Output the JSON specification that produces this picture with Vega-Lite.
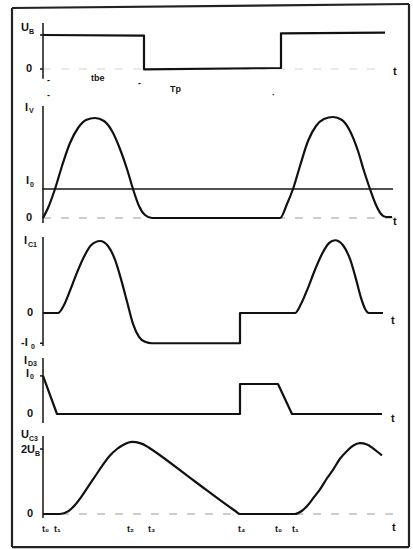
{
  "$schema": "https://vega.github.io/schema/vega-lite/v6.json",
  "padding": {"left": 10, "right": 3, "top": 2, "bottom": 2},
  "background": "white",
  "spacing": 0,
  "bounds": "flush",
  "resolve": {"scale": {"x": "independent", "y": "independent"}},
  "config": {
    "view": {"stroke": null},
    "text": {"align": "left", "baseline": "middle", "font": "Liberation Sans", "fontWeight": "bold", "color": "#141414"}
  },
  "datasets": {
    "signals": [
      {"panel": "ub", "x": 0, "y": 1.0}, {"panel": "ub", "x": 101, "y": 0.98}, {"panel": "ub", "x": 101, "y": -0.01},
      {"panel": "ub", "x": 238, "y": 0.03}, {"panel": "ub", "x": 238, "y": 1.05}, {"panel": "ub", "x": 342, "y": 1.07},

      {"panel": "iv", "x": 0, "y": 0}, {"panel": "iv", "x": 5, "y": 0.1}, {"panel": "iv", "x": 12, "y": 0.29},
      {"panel": "iv", "x": 19, "y": 0.52}, {"panel": "iv", "x": 27, "y": 0.75}, {"panel": "iv", "x": 35, "y": 0.9},
      {"panel": "iv", "x": 43, "y": 0.98}, {"panel": "iv", "x": 52, "y": 1.0}, {"panel": "iv", "x": 61, "y": 0.97},
      {"panel": "iv", "x": 69, "y": 0.87}, {"panel": "iv", "x": 77, "y": 0.69}, {"panel": "iv", "x": 84, "y": 0.49},
      {"panel": "iv", "x": 90, "y": 0.29}, {"panel": "iv", "x": 96, "y": 0.12}, {"panel": "iv", "x": 102, "y": 0.03},
      {"panel": "iv", "x": 109, "y": 0}, {"panel": "iv", "x": 237, "y": 0}, {"panel": "iv", "x": 244, "y": 0.14},
      {"panel": "iv", "x": 250, "y": 0.29}, {"panel": "iv", "x": 257, "y": 0.52}, {"panel": "iv", "x": 265, "y": 0.77},
      {"panel": "iv", "x": 273, "y": 0.92}, {"panel": "iv", "x": 281, "y": 0.99}, {"panel": "iv", "x": 290, "y": 1.01},
      {"panel": "iv", "x": 299, "y": 0.98}, {"panel": "iv", "x": 307, "y": 0.87}, {"panel": "iv", "x": 315, "y": 0.67},
      {"panel": "iv", "x": 321, "y": 0.47}, {"panel": "iv", "x": 327, "y": 0.29}, {"panel": "iv", "x": 333, "y": 0.13},
      {"panel": "iv", "x": 338, "y": 0.04}, {"panel": "iv", "x": 343, "y": 0.01}, {"panel": "iv", "x": 349, "y": 0.01},

      {"panel": "ic", "x": 0, "y": 0}, {"panel": "ic", "x": 15, "y": 0}, {"panel": "ic", "x": 21, "y": 0.11},
      {"panel": "ic", "x": 27, "y": 0.31}, {"panel": "ic", "x": 34, "y": 0.56}, {"panel": "ic", "x": 41, "y": 0.78},
      {"panel": "ic", "x": 48, "y": 0.94}, {"panel": "ic", "x": 57, "y": 1.0}, {"panel": "ic", "x": 65, "y": 0.93},
      {"panel": "ic", "x": 72, "y": 0.74}, {"panel": "ic", "x": 78, "y": 0.47}, {"panel": "ic", "x": 84, "y": 0.16},
      {"panel": "ic", "x": 90, "y": -0.15}, {"panel": "ic", "x": 96, "y": -0.33}, {"panel": "ic", "x": 102, "y": -0.4},
      {"panel": "ic", "x": 109, "y": -0.42}, {"panel": "ic", "x": 197, "y": -0.42}, {"panel": "ic", "x": 197, "y": 0},
      {"panel": "ic", "x": 252, "y": 0}, {"panel": "ic", "x": 258, "y": 0.125}, {"panel": "ic", "x": 265, "y": 0.35},
      {"panel": "ic", "x": 272, "y": 0.6}, {"panel": "ic", "x": 279, "y": 0.82}, {"panel": "ic", "x": 286, "y": 0.97},
      {"panel": "ic", "x": 292, "y": 1.01}, {"panel": "ic", "x": 300, "y": 0.94}, {"panel": "ic", "x": 307, "y": 0.75},
      {"panel": "ic", "x": 313, "y": 0.47}, {"panel": "ic", "x": 318, "y": 0.21}, {"panel": "ic", "x": 322, "y": 0.06},
      {"panel": "ic", "x": 326, "y": 0}, {"panel": "ic", "x": 340, "y": 0},

      {"panel": "id", "x": 0, "y": 1.27}, {"panel": "id", "x": 14, "y": 0}, {"panel": "id", "x": 197, "y": 0},
      {"panel": "id", "x": 197, "y": 1.0}, {"panel": "id", "x": 235, "y": 1.0}, {"panel": "id", "x": 249, "y": 0},
      {"panel": "id", "x": 339, "y": 0},

      {"panel": "uc", "x": 0, "y": 0}, {"panel": "uc", "x": 17, "y": 0}, {"panel": "uc", "x": 25, "y": 0.04},
      {"panel": "uc", "x": 32, "y": 0.14}, {"panel": "uc", "x": 39, "y": 0.28}, {"panel": "uc", "x": 46, "y": 0.44},
      {"panel": "uc", "x": 53, "y": 0.6}, {"panel": "uc", "x": 60, "y": 0.76}, {"panel": "uc", "x": 67, "y": 0.9},
      {"panel": "uc", "x": 74, "y": 1.0}, {"panel": "uc", "x": 81, "y": 1.07}, {"panel": "uc", "x": 89, "y": 1.11},
      {"panel": "uc", "x": 97, "y": 1.09}, {"panel": "uc", "x": 104, "y": 1.04}, {"panel": "uc", "x": 108, "y": 1.0},
      {"panel": "uc", "x": 152, "y": 0.5}, {"panel": "uc", "x": 192, "y": 0.05}, {"panel": "uc", "x": 197, "y": 0},
      {"panel": "uc", "x": 252, "y": 0}, {"panel": "uc", "x": 259, "y": 0.05}, {"panel": "uc", "x": 265, "y": 0.14},
      {"panel": "uc", "x": 271, "y": 0.26}, {"panel": "uc", "x": 277, "y": 0.38}, {"panel": "uc", "x": 284, "y": 0.55},
      {"panel": "uc", "x": 290, "y": 0.68}, {"panel": "uc", "x": 297, "y": 0.85}, {"panel": "uc", "x": 304, "y": 0.97},
      {"panel": "uc", "x": 310, "y": 1.05}, {"panel": "uc", "x": 317, "y": 1.09}, {"panel": "uc", "x": 324, "y": 1.07},
      {"panel": "uc", "x": 330, "y": 1.01}, {"panel": "uc", "x": 335, "y": 0.95}, {"panel": "uc", "x": 339, "y": 0.9}
    ],
    "guides": [
      {"panel": "ub", "kind": "rule", "x": 0, "x2": 0, "y": 1.35, "y2": -0.29},
      {"panel": "ub", "kind": "rule", "x": -3, "x2": 0, "y": 1.0, "y2": 1.0},
      {"panel": "ub", "kind": "rule", "x": -3, "x2": 0, "y": 0, "y2": 0},
      {"panel": "ub", "kind": "dash", "x": 0, "x2": 340, "y": 0, "y2": 0},
      {"panel": "ub", "kind": "frame", "x": -31, "x2": -31, "y": 1.794, "y2": -0.941},
      {"panel": "ub", "kind": "frame", "x": 366, "x2": 366, "y": 1.912, "y2": -0.941},
      {"panel": "ub", "kind": "frame", "x": -31, "x2": 366, "y": 1.794, "y2": 1.912},

      {"panel": "iv", "kind": "rule", "x": 0, "x2": 0, "y": 1.12, "y2": -0.05},
      {"panel": "iv", "kind": "rule", "x": -1, "x2": 350, "y": 0.29, "y2": 0.29},
      {"panel": "iv", "kind": "dash", "x": 0, "x2": 354, "y": 0, "y2": 0},
      {"panel": "iv", "kind": "frame", "x": -31, "x2": -31, "y": 1.17, "y2": -0.08},
      {"panel": "iv", "kind": "frame", "x": 366, "x2": 366, "y": 1.17, "y2": -0.08},

      {"panel": "ic", "kind": "rule", "x": 0, "x2": 0, "y": 1.056, "y2": -0.458},
      {"panel": "ic", "kind": "rule", "x": -3, "x2": 0, "y": -0.42, "y2": -0.42},
      {"panel": "ic", "kind": "frame", "x": -31, "x2": -31, "y": 1.208, "y2": -0.458},
      {"panel": "ic", "kind": "frame", "x": 366, "x2": 366, "y": 1.208, "y2": -0.458},

      {"panel": "id", "kind": "rule", "x": 0, "x2": 0, "y": 1.87, "y2": -0.3},
      {"panel": "id", "kind": "rule", "x": -3, "x2": 0, "y": 1.27, "y2": 1.27},
      {"panel": "id", "kind": "frame", "x": -31, "x2": -31, "y": 2.267, "y2": -0.4},
      {"panel": "id", "kind": "frame", "x": 366, "x2": 366, "y": 2.267, "y2": -0.4},

      {"panel": "uc", "kind": "rule", "x": 0, "x2": 0, "y": 1.2, "y2": -0.06},
      {"panel": "uc", "kind": "rule", "x": -3, "x2": 0, "y": 1.0, "y2": 1.0},
      {"panel": "uc", "kind": "dash", "x": 0, "x2": 352, "y": 0, "y2": 0},
      {"panel": "uc", "kind": "frame", "x": -31, "x2": -31, "y": 1.354, "y2": -0.508},
      {"panel": "uc", "kind": "frame", "x": 366, "x2": 366, "y": 1.354, "y2": -0.508},
      {"panel": "uc", "kind": "frame", "x": -31, "x2": 366, "y": -0.508, "y2": -0.508}
    ],
    "labels": [
      {"panel": "ub", "text": "U", "role": "main", "x": -22, "y": 1.21},
      {"panel": "ub", "text": "B", "role": "sub", "x": -14, "y": 1.1},
      {"panel": "ub", "text": "0", "role": "main", "x": -17, "y": 0},
      {"panel": "ub", "text": "t", "role": "main", "x": 350, "y": -0.1},
      {"panel": "ub", "text": "tbe", "role": "small", "x": 48, "y": -0.26},
      {"panel": "ub", "text": "Tp", "role": "small", "x": 127, "y": -0.59},
      {"panel": "ub", "text": "-", "role": "small", "x": 4, "y": -0.32},
      {"panel": "ub", "text": "-", "role": "small", "x": 4, "y": -0.76},
      {"panel": "ub", "text": "-", "role": "small", "x": 95, "y": -0.41},
      {"panel": "ub", "text": "·", "role": "small", "x": 229, "y": -0.76},

      {"panel": "iv", "text": "I", "role": "main", "x": -18, "y": 1.1},
      {"panel": "iv", "text": "V", "role": "sub", "x": -14, "y": 1.07},
      {"panel": "iv", "text": "I", "role": "main", "x": -17, "y": 0.37},
      {"panel": "iv", "text": "0", "role": "sub", "x": -13, "y": 0.33},
      {"panel": "iv", "text": "0", "role": "main", "x": -17, "y": 0},
      {"panel": "iv", "text": "t", "role": "main", "x": 350, "y": -0.04},

      {"panel": "ic", "text": "I", "role": "main", "x": -19, "y": 1.0},
      {"panel": "ic", "text": "C1", "role": "sub", "x": -15, "y": 0.95},
      {"panel": "ic", "text": "0", "role": "main", "x": -16, "y": 0},
      {"panel": "ic", "text": "-I", "role": "main", "x": -22, "y": -0.42},
      {"panel": "ic", "text": "0", "role": "sub", "x": -12, "y": -0.47},
      {"panel": "ic", "text": "t", "role": "main", "x": 348, "y": -0.11},

      {"panel": "id", "text": "I", "role": "main", "x": -19, "y": 1.77},
      {"panel": "id", "text": "D3", "role": "sub", "x": -15, "y": 1.67},
      {"panel": "id", "text": "I", "role": "main", "x": -17, "y": 1.33},
      {"panel": "id", "text": "0", "role": "sub", "x": -13, "y": 1.23},
      {"panel": "id", "text": "0", "role": "main", "x": -16, "y": 0},
      {"panel": "id", "text": "t", "role": "main", "x": 348, "y": -0.15},

      {"panel": "uc", "text": "U", "role": "main", "x": -22, "y": 1.22},
      {"panel": "uc", "text": "C3", "role": "sub", "x": -14, "y": 1.16},
      {"panel": "uc", "text": "2U", "role": "main", "x": -22, "y": 0.99},
      {"panel": "uc", "text": "B", "role": "sub", "x": -8, "y": 0.93},
      {"panel": "uc", "text": "0", "role": "main", "x": -16, "y": 0},
      {"panel": "uc", "text": "t", "role": "main", "x": 349, "y": -0.22},
      {"panel": "uc", "text": "t₀", "role": "small", "x": -1, "y": -0.23},
      {"panel": "uc", "text": "t₁", "role": "small", "x": 11, "y": -0.23},
      {"panel": "uc", "text": "t₂", "role": "small", "x": 84, "y": -0.23},
      {"panel": "uc", "text": "t₃", "role": "small", "x": 105, "y": -0.23},
      {"panel": "uc", "text": "t₄", "role": "small", "x": 195, "y": -0.23},
      {"panel": "uc", "text": "t₀", "role": "small", "x": 232, "y": -0.23},
      {"panel": "uc", "text": "t₁", "role": "small", "x": 249, "y": -0.23}
    ]
  },
  "vconcat": [
    {
      "width": 400,
      "height": 98,
      "encoding": {
        "x": {"field": "x", "type": "quantitative", "scale": {"domain": [-33, 367], "nice": false, "zero": false}, "axis": null},
        "y": {"field": "y", "type": "quantitative", "scale": {"domain": [-0.941, 1.941], "nice": false, "zero": false}, "axis": null}
      },
      "layer": [
        {"data": {"name": "guides"}, "transform": [{"filter": "datum.panel == 'ub' && datum.kind == 'dash'"}],
         "mark": {"type": "rule", "color": "#d4d4d4", "strokeWidth": 1, "strokeDash": [8, 10]},
         "encoding": {"x2": {"field": "x2"}, "y2": {"field": "y2"}}},
        {"data": {"name": "guides"}, "transform": [{"filter": "datum.panel == 'ub' && datum.kind == 'rule'"}],
         "mark": {"type": "rule", "color": "#151515", "strokeWidth": 1.5},
         "encoding": {"x2": {"field": "x2"}, "y2": {"field": "y2"}}},
        {"data": {"name": "guides"}, "transform": [{"filter": "datum.panel == 'ub' && datum.kind == 'frame'"}],
         "mark": {"type": "rule", "color": "#222", "strokeWidth": 2.2},
         "encoding": {"x2": {"field": "x2"}, "y2": {"field": "y2"}}},
        {"data": {"name": "signals"}, "transform": [{"filter": "datum.panel == 'ub'"}],
         "mark": {"type": "line", "interpolate": "linear", "color": "#111", "strokeWidth": 2.2, "strokeJoin": "round"},
         "encoding": {"order": {"value": null}}},
        {"data": {"name": "labels"}, "transform": [{"filter": "datum.panel == 'ub' && datum.role == 'main'"}],
         "mark": {"type": "text", "fontSize": 11}, "encoding": {"text": {"field": "text"}}},
        {"data": {"name": "labels"}, "transform": [{"filter": "datum.panel == 'ub' && datum.role == 'sub'"}],
         "mark": {"type": "text", "fontSize": 7}, "encoding": {"text": {"field": "text"}}},
        {"data": {"name": "labels"}, "transform": [{"filter": "datum.panel == 'ub' && datum.role == 'small'"}],
         "mark": {"type": "text", "fontSize": 9}, "encoding": {"text": {"field": "text"}}}
      ]
    },
    {
      "width": 400,
      "height": 125,
      "encoding": {
        "x": {"field": "x", "type": "quantitative", "scale": {"domain": [-33, 367], "nice": false, "zero": false}, "axis": null},
        "y": {"field": "y", "type": "quantitative", "scale": {"domain": [-0.08, 1.17], "nice": false, "zero": false}, "axis": null}
      },
      "layer": [
        {"data": {"name": "guides"}, "transform": [{"filter": "datum.panel == 'iv' && datum.kind == 'dash'"}],
         "mark": {"type": "rule", "color": "#9a9a9a", "strokeWidth": 1, "strokeDash": [8, 10]},
         "encoding": {"x2": {"field": "x2"}, "y2": {"field": "y2"}}},
        {"data": {"name": "guides"}, "transform": [{"filter": "datum.panel == 'iv' && datum.kind == 'rule'"}],
         "mark": {"type": "rule", "color": "#151515", "strokeWidth": 1.5},
         "encoding": {"x2": {"field": "x2"}, "y2": {"field": "y2"}}},
        {"data": {"name": "guides"}, "transform": [{"filter": "datum.panel == 'iv' && datum.kind == 'frame'"}],
         "mark": {"type": "rule", "color": "#222", "strokeWidth": 2.2},
         "encoding": {"x2": {"field": "x2"}, "y2": {"field": "y2"}}},
        {"data": {"name": "signals"}, "transform": [{"filter": "datum.panel == 'iv'"}],
         "mark": {"type": "line", "interpolate": "monotone", "color": "#111", "strokeWidth": 2.2, "strokeJoin": "round"},
         "encoding": {"order": {"value": null}}},
        {"data": {"name": "labels"}, "transform": [{"filter": "datum.panel == 'iv' && datum.role == 'main'"}],
         "mark": {"type": "text", "fontSize": 11}, "encoding": {"text": {"field": "text"}}},
        {"data": {"name": "labels"}, "transform": [{"filter": "datum.panel == 'iv' && datum.role == 'sub'"}],
         "mark": {"type": "text", "fontSize": 7}, "encoding": {"text": {"field": "text"}}}
      ]
    },
    {
      "width": 400,
      "height": 120,
      "encoding": {
        "x": {"field": "x", "type": "quantitative", "scale": {"domain": [-33, 367], "nice": false, "zero": false}, "axis": null},
        "y": {"field": "y", "type": "quantitative", "scale": {"domain": [-0.458, 1.208], "nice": false, "zero": false}, "axis": null}
      },
      "layer": [
        {"data": {"name": "guides"}, "transform": [{"filter": "datum.panel == 'ic' && datum.kind == 'rule'"}],
         "mark": {"type": "rule", "color": "#151515", "strokeWidth": 1.5},
         "encoding": {"x2": {"field": "x2"}, "y2": {"field": "y2"}}},
        {"data": {"name": "guides"}, "transform": [{"filter": "datum.panel == 'ic' && datum.kind == 'frame'"}],
         "mark": {"type": "rule", "color": "#222", "strokeWidth": 2.2},
         "encoding": {"x2": {"field": "x2"}, "y2": {"field": "y2"}}},
        {"data": {"name": "signals"}, "transform": [{"filter": "datum.panel == 'ic'"}],
         "mark": {"type": "line", "interpolate": "monotone", "color": "#111", "strokeWidth": 2.2, "strokeJoin": "round"},
         "encoding": {"order": {"value": null}}},
        {"data": {"name": "labels"}, "transform": [{"filter": "datum.panel == 'ic' && datum.role == 'main'"}],
         "mark": {"type": "text", "fontSize": 11}, "encoding": {"text": {"field": "text"}}},
        {"data": {"name": "labels"}, "transform": [{"filter": "datum.panel == 'ic' && datum.role == 'sub'"}],
         "mark": {"type": "text", "fontSize": 7}, "encoding": {"text": {"field": "text"}}}
      ]
    },
    {
      "width": 400,
      "height": 80,
      "encoding": {
        "x": {"field": "x", "type": "quantitative", "scale": {"domain": [-33, 367], "nice": false, "zero": false}, "axis": null},
        "y": {"field": "y", "type": "quantitative", "scale": {"domain": [-0.4, 2.267], "nice": false, "zero": false}, "axis": null}
      },
      "layer": [
        {"data": {"name": "guides"}, "transform": [{"filter": "datum.panel == 'id' && datum.kind == 'rule'"}],
         "mark": {"type": "rule", "color": "#151515", "strokeWidth": 1.5},
         "encoding": {"x2": {"field": "x2"}, "y2": {"field": "y2"}}},
        {"data": {"name": "guides"}, "transform": [{"filter": "datum.panel == 'id' && datum.kind == 'frame'"}],
         "mark": {"type": "rule", "color": "#222", "strokeWidth": 2.2},
         "encoding": {"x2": {"field": "x2"}, "y2": {"field": "y2"}}},
        {"data": {"name": "signals"}, "transform": [{"filter": "datum.panel == 'id'"}],
         "mark": {"type": "line", "interpolate": "linear", "color": "#111", "strokeWidth": 2.2, "strokeJoin": "round"},
         "encoding": {"order": {"value": null}}},
        {"data": {"name": "labels"}, "transform": [{"filter": "datum.panel == 'id' && datum.role == 'main'"}],
         "mark": {"type": "text", "fontSize": 11}, "encoding": {"text": {"field": "text"}}},
        {"data": {"name": "labels"}, "transform": [{"filter": "datum.panel == 'id' && datum.role == 'sub'"}],
         "mark": {"type": "text", "fontSize": 7}, "encoding": {"text": {"field": "text"}}}
      ]
    },
    {
      "width": 400,
      "height": 122,
      "encoding": {
        "x": {"field": "x", "type": "quantitative", "scale": {"domain": [-33, 367], "nice": false, "zero": false}, "axis": null},
        "y": {"field": "y", "type": "quantitative", "scale": {"domain": [-0.523, 1.354], "nice": false, "zero": false}, "axis": null}
      },
      "layer": [
        {"data": {"name": "guides"}, "transform": [{"filter": "datum.panel == 'uc' && datum.kind == 'dash'"}],
         "mark": {"type": "rule", "color": "#9a9a9a", "strokeWidth": 1, "strokeDash": [8, 10]},
         "encoding": {"x2": {"field": "x2"}, "y2": {"field": "y2"}}},
        {"data": {"name": "guides"}, "transform": [{"filter": "datum.panel == 'uc' && datum.kind == 'rule'"}],
         "mark": {"type": "rule", "color": "#151515", "strokeWidth": 1.5},
         "encoding": {"x2": {"field": "x2"}, "y2": {"field": "y2"}}},
        {"data": {"name": "guides"}, "transform": [{"filter": "datum.panel == 'uc' && datum.kind == 'frame'"}],
         "mark": {"type": "rule", "color": "#222", "strokeWidth": 2.2},
         "encoding": {"x2": {"field": "x2"}, "y2": {"field": "y2"}}},
        {"data": {"name": "signals"}, "transform": [{"filter": "datum.panel == 'uc'"}],
         "mark": {"type": "line", "interpolate": "monotone", "color": "#111", "strokeWidth": 2.2, "strokeJoin": "round"},
         "encoding": {"order": {"value": null}}},
        {"data": {"name": "labels"}, "transform": [{"filter": "datum.panel == 'uc' && datum.role == 'main'"}],
         "mark": {"type": "text", "fontSize": 11}, "encoding": {"text": {"field": "text"}}},
        {"data": {"name": "labels"}, "transform": [{"filter": "datum.panel == 'uc' && datum.role == 'sub'"}],
         "mark": {"type": "text", "fontSize": 7}, "encoding": {"text": {"field": "text"}}},
        {"data": {"name": "labels"}, "transform": [{"filter": "datum.panel == 'uc' && datum.role == 'small'"}],
         "mark": {"type": "text", "fontSize": 9}, "encoding": {"text": {"field": "text"}}}
      ]
    }
  ]
}
